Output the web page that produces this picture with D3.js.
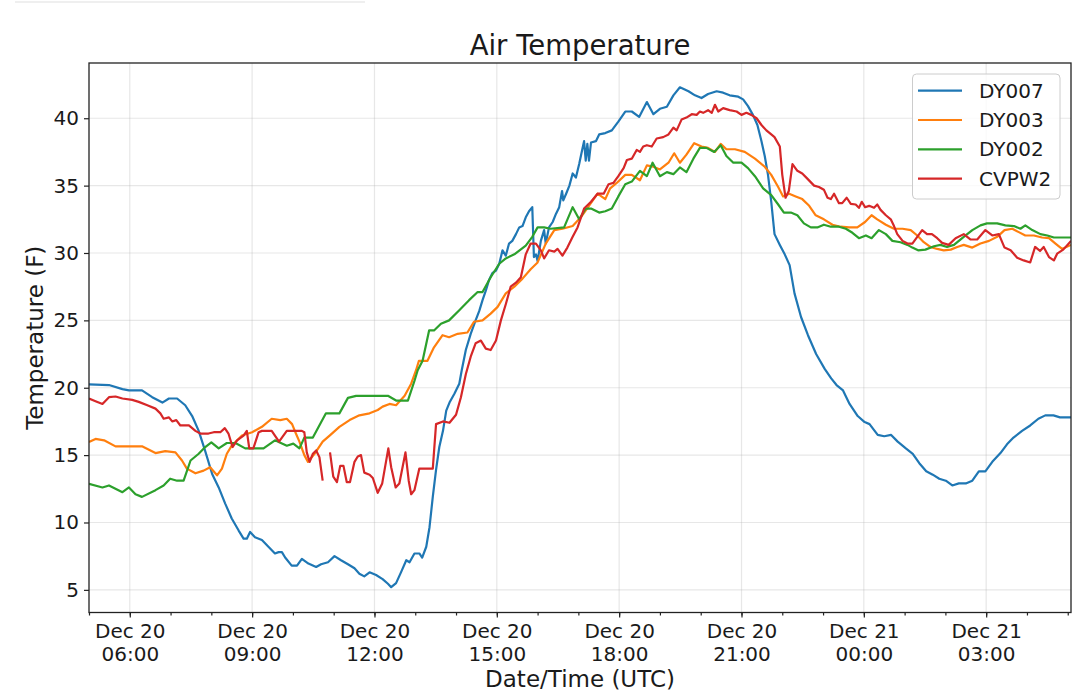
<!DOCTYPE html>
<html>
<head>
<meta charset="utf-8">
<script src="https://cdn.jsdelivr.net/npm/d3@7"></script>
<style>
  body { margin: 0; background: #fff; }
  text { font-family: "DejaVu Sans", sans-serif; fill: #1a1a1a; }
</style>
</head>
<body>
<svg id="chart" width="1080" height="698"></svg>
<script>
// [hours after Dec 20 00:00 UTC, air temperature F]
var DY007 = [[5.0,20.25],[5.49,20.2],[5.82,19.9],[5.98,19.8],[6.3,19.8],[6.55,19.3],[6.8,18.9],[6.96,19.2],
  [7.16,19.2],[7.36,18.7],[7.53,17.9],[7.69,16.8],[7.85,15.3],[8.02,13.6],[8.18,12.6],[8.34,11.4],[8.5,10.3],
  [8.67,9.4],[8.79,8.8],[8.87,8.8],[8.95,9.3],[9.07,8.9],[9.24,8.7],[9.4,8.2],[9.56,7.7],[9.65,7.8],[9.73,7.8],
  [9.81,7.4],[9.97,6.8],[10.1,6.8],[10.22,7.3],[10.38,6.95],[10.57,6.7],[10.69,6.9],[10.86,7.05],[11.02,7.5],
  [11.18,7.2],[11.35,6.9],[11.51,6.6],[11.63,6.2],[11.75,6.0],[11.88,6.3],[12.04,6.1],[12.2,5.8],[12.33,5.45],
  [12.41,5.2],[12.53,5.5],[12.65,6.3],[12.78,7.2],[12.86,7.05],[12.98,7.7],[13.1,7.7],[13.17,7.4],[13.27,8.2],
  [13.35,9.65],[13.43,11.9],[13.51,13.9],[13.59,15.6],[13.68,16.8],[13.76,18.3],[13.84,18.9],[13.96,19.55],
  [14.08,20.3],[14.14,21.3],[14.24,22.8],[14.36,24.0],[14.48,25.0],[14.57,25.7],[14.65,26.5],[14.73,27.2],
  [14.81,28.0],[14.89,28.5],[14.98,28.7],[15.06,29.2],[15.14,30.2],[15.22,29.8],[15.3,30.7],[15.38,30.9],
  [15.47,31.4],[15.55,31.9],[15.63,32.0],[15.71,32.65],[15.79,33.1],[15.87,33.4],[15.91,29.7],[15.96,29.9],
  [16.0,29.4],[16.08,30.9],[16.16,31.7],[16.2,30.7],[16.28,31.9],[16.37,32.3],[16.45,32.9],[16.53,33.4],
  [16.6,34.6],[16.63,33.9],[16.7,34.4],[16.78,35.0],[16.86,35.9],[16.94,35.6],[17.02,36.6],[17.09,37.6],
  [17.14,38.3],[17.18,36.85],[17.22,38.1],[17.26,36.85],[17.31,38.2],[17.43,38.3],[17.51,38.8],[17.66,38.9],
  [17.82,39.1],[17.98,39.75],[18.15,40.5],[18.31,40.5],[18.49,40.1],[18.68,41.2],[18.84,40.3],[19.0,40.7],
  [19.17,40.85],[19.33,41.7],[19.49,42.3],[19.7,42.0],[19.86,41.7],[20.02,41.5],[20.18,41.8],[20.39,42.0],
  [20.55,41.9],[20.71,41.7],[20.92,41.6],[21.04,41.4],[21.16,40.9],[21.28,40.25],[21.39,39.5],[21.49,38.3],
  [21.57,37.2],[21.65,35.8],[21.73,33.8],[21.81,31.4],[21.94,30.6],[22.06,29.9],[22.18,29.1],[22.3,27.0],
  [22.46,25.25],[22.63,23.9],[22.83,22.5],[23.04,21.4],[23.2,20.7],[23.33,20.2],[23.49,19.8],[23.65,18.8],
  [23.85,17.9],[24.02,17.45],[24.14,17.3],[24.34,16.5],[24.5,16.4],[24.67,16.5],[24.83,16.0],[25.03,15.5],
  [25.2,15.1],[25.36,14.4],[25.53,13.8],[25.69,13.55],[25.85,13.25],[26.01,13.1],[26.17,12.75],[26.33,12.9],
  [26.5,12.9],[26.66,13.1],[26.82,13.8],[26.98,13.8],[27.15,14.5],[27.35,15.15],[27.51,15.8],[27.67,16.3],
  [27.88,16.8],[28.08,17.2],[28.28,17.7],[28.45,17.95],[28.65,17.95],[28.81,17.8],[29.08,17.8]];

var DY003 = [[5.0,15.97],[5.16,16.2],[5.37,16.1],[5.65,15.65],[6.3,15.65],[6.63,15.15],[6.87,15.3],[7.12,15.2],
  [7.28,14.6],[7.4,14.0],[7.61,13.65],[7.81,13.85],[7.97,14.1],[8.14,13.5],[8.26,14.0],[8.38,15.1],[8.5,15.7],
  [8.75,16.45],[9.0,16.7],[9.24,17.1],[9.48,17.7],[9.69,17.6],[9.85,17.7],[9.98,17.3],[10.06,16.7],[10.16,16.0],
  [10.28,15.0],[10.37,14.5],[10.53,15.1],[10.73,16.0],[10.9,16.45],[11.14,17.1],[11.39,17.6],[11.63,17.95],
  [11.88,18.1],[12.08,18.35],[12.2,18.6],[12.37,18.8],[12.53,18.7],[12.74,19.4],[12.9,20.3],[13.02,21.3],
  [13.09,22.0],[13.3,22.0],[13.46,23.0],[13.67,23.9],[13.83,23.75],[14.04,24.0],[14.28,24.1],[14.44,24.9],
  [14.65,25.0],[14.85,25.5],[15.02,26.0],[15.22,27.0],[15.43,27.5],[15.63,28.1],[15.83,28.8],[16.0,29.3],
  [16.2,30.7],[16.41,31.7],[16.61,31.8],[16.86,32.0],[17.06,32.65],[17.26,33.5],[17.47,34.4],[17.66,34.0],
  [17.78,34.8],[17.94,35.2],[18.15,35.8],[18.31,35.8],[18.51,35.4],[18.68,36.5],[18.84,36.4],[19.0,36.2],
  [19.21,36.7],[19.35,37.4],[19.49,36.7],[19.65,37.3],[19.84,38.15],[20.02,37.9],[20.18,37.8],[20.35,37.5],
  [20.49,38.1],[20.63,37.7],[20.84,37.7],[21.08,37.5],[21.33,37.0],[21.57,36.4],[21.73,35.8],[21.9,34.9],
  [22.02,34.2],[22.17,34.4],[22.33,34.2],[22.49,34.0],[22.66,33.5],[22.82,32.8],[23.02,32.5],[23.23,32.1],
  [23.43,31.95],[23.64,31.9],[23.84,31.9],[24.03,32.3],[24.19,32.8],[24.33,32.5],[24.54,32.1],[24.74,31.8],
  [24.95,31.8],[25.15,31.7],[25.31,31.3],[25.47,30.8],[25.63,30.45],[25.8,30.3],[25.96,30.2],[26.13,30.25],
  [26.29,30.45],[26.45,30.6],[26.66,30.4],[26.86,30.7],[27.07,30.9],[27.27,31.2],[27.45,31.7],[27.64,31.8],
  [27.8,31.55],[27.96,31.3],[28.17,31.3],[28.37,31.15],[28.54,31.1],[28.7,30.7],[28.86,30.3],[29.08,30.6]];

var DY002 = [[5.0,12.87],[5.33,12.6],[5.49,12.75],[5.82,12.25],[5.98,12.6],[6.14,12.1],[6.3,11.9],[6.63,12.4],
  [6.83,12.75],[6.99,13.25],[7.16,13.1],[7.32,13.1],[7.49,14.6],[7.69,15.1],[7.85,15.6],[8.0,15.95],[8.18,15.5],
  [8.38,15.9],[8.59,15.9],[8.83,15.5],[9.07,15.5],[9.28,15.5],[9.56,16.1],[9.85,15.7],[10.01,15.85],[10.16,15.5],
  [10.28,16.3],[10.49,16.3],[10.81,18.1],[11.14,18.1],[11.35,19.25],[11.55,19.4],[12.33,19.4],[12.53,19.05],
  [12.82,19.05],[12.98,20.5],[13.06,21.3],[13.18,22.0],[13.34,24.25],[13.46,24.25],[13.63,24.75],[13.83,25.0],
  [14.08,25.75],[14.32,26.5],[14.53,27.1],[14.65,27.1],[14.85,28.2],[15.06,29.2],[15.22,29.6],[15.43,29.9],
  [15.71,30.55],[15.87,31.2],[16.0,31.9],[16.16,31.9],[16.32,31.8],[16.65,31.9],[16.86,33.4],[17.02,32.5],
  [17.18,33.3],[17.31,33.3],[17.51,33.0],[17.66,33.1],[17.82,33.3],[17.98,34.2],[18.15,35.1],[18.31,35.3],
  [18.51,36.1],[18.68,35.7],[18.82,36.7],[19.0,35.7],[19.17,36.0],[19.33,35.85],[19.49,36.35],[19.65,36.0],
  [19.82,37.0],[19.98,37.8],[20.14,37.8],[20.33,37.5],[20.49,38.0],[20.63,37.2],[20.8,36.7],[21.0,36.7],
  [21.16,36.3],[21.33,35.7],[21.53,34.8],[21.73,34.3],[21.9,33.6],[22.04,33.0],[22.21,33.0],[22.37,32.8],
  [22.53,32.2],[22.7,31.9],[22.86,31.9],[23.02,32.1],[23.19,31.95],[23.39,31.95],[23.56,31.8],[23.72,31.5],
  [23.88,31.1],[24.05,31.3],[24.19,31.1],[24.37,31.7],[24.54,31.4],[24.7,30.9],[24.9,30.8],[25.07,30.6],
  [25.19,30.4],[25.33,30.2],[25.51,30.25],[25.72,30.5],[25.88,30.6],[26.04,30.45],[26.21,30.6],[26.45,31.2],
  [26.66,31.7],[26.86,32.05],[27.02,32.2],[27.27,32.2],[27.47,32.05],[27.68,32.0],[27.84,31.8],[27.96,32.05],
  [28.13,31.7],[28.33,31.4],[28.5,31.3],[28.66,31.15],[29.08,31.15]];

// null marks the hole in the record
var CVPW2 = [[5.0,19.2],[5.16,19.0],[5.33,18.8],[5.49,19.3],[5.65,19.35],[5.82,19.2],[6.06,19.1],[6.22,18.95],
  [6.43,18.7],[6.63,18.45],[6.75,18.1],[6.83,17.7],[6.96,17.8],[7.04,17.5],[7.14,17.6],[7.24,17.2],[7.45,17.2],
  [7.61,16.8],[7.73,16.6],[7.93,16.6],[8.06,16.7],[8.22,16.7],[8.33,17.0],[8.42,16.6],[8.52,15.6],[8.63,16.1],
  [8.79,16.45],[8.87,16.8],[8.93,15.5],[9.03,15.5],[9.16,16.7],[9.24,16.8],[9.48,16.8],[9.66,16.0],[9.85,16.8],
  [10.22,16.8],[10.28,16.7],[10.34,15.2],[10.41,14.5],[10.49,15.1],[10.57,15.35],[10.65,14.85],[10.73,13.1],
  [10.82,null],
  [10.91,15.2],[10.99,13.4],[11.08,13.0],[11.16,14.2],[11.24,14.2],[11.32,13.0],[11.4,13.0],[11.51,14.5],
  [11.59,14.9],[11.67,15.0],[11.75,13.7],[11.88,13.55],[11.96,13.3],[12.08,12.2],[12.19,12.9],[12.34,15.5],
  [12.41,14.1],[12.52,12.6],[12.61,12.9],[12.76,15.2],[12.84,13.1],[12.9,12.1],[12.98,12.4],[13.1,14.0],
  [13.43,14.0],[13.51,17.3],[13.68,17.5],[13.84,17.4],[14.0,18.0],[14.12,19.3],[14.24,21.0],[14.36,22.3],
  [14.48,23.3],[14.61,23.5],[14.73,22.9],[14.85,22.8],[14.98,23.5],[15.1,25.0],[15.22,26.2],[15.34,27.5],
  [15.47,27.8],[15.59,28.2],[15.71,29.9],[15.83,30.7],[15.96,30.7],[16.08,30.2],[16.16,29.6],[16.28,30.2],
  [16.41,30.1],[16.49,30.3],[16.61,29.8],[16.73,30.4],[16.86,31.2],[16.98,31.9],[17.14,33.3],[17.31,33.8],
  [17.47,34.4],[17.62,34.4],[17.74,35.1],[17.86,35.2],[17.98,35.7],[18.11,36.3],[18.19,36.9],[18.31,37.0],
  [18.43,37.65],[18.51,37.5],[18.59,37.9],[18.68,38.0],[18.8,37.9],[18.92,38.5],[19.08,38.6],[19.21,38.8],
  [19.33,39.3],[19.41,39.1],[19.53,39.9],[19.65,40.05],[19.78,40.3],[19.9,40.25],[19.98,40.5],[20.06,40.4],
  [20.18,40.6],[20.27,40.4],[20.35,41.0],[20.43,40.5],[20.55,40.75],[20.71,40.6],[20.88,40.5],[21.0,40.25],
  [21.12,40.4],[21.24,40.25],[21.37,40.0],[21.49,39.5],[21.61,39.1],[21.73,38.8],[21.81,38.6],[21.94,37.9],
  [22.0,35.8],[22.08,34.1],[22.16,34.6],[22.25,36.6],[22.37,36.1],[22.49,35.9],[22.62,35.5],[22.78,35.0],
  [22.9,34.9],[23.02,34.7],[23.11,34.1],[23.19,34.0],[23.27,34.4],[23.39,33.7],[23.47,33.7],[23.58,34.1],
  [23.68,33.65],[23.8,33.6],[23.88,33.35],[23.95,33.8],[24.03,33.4],[24.13,33.5],[24.25,33.35],[24.33,33.6],
  [24.41,33.2],[24.54,32.8],[24.66,32.5],[24.74,32.0],[24.82,31.4],[24.95,30.9],[25.07,30.7],[25.19,30.7],
  [25.31,31.2],[25.43,31.7],[25.55,31.4],[25.67,31.4],[25.8,31.1],[25.92,30.75],[26.08,30.6],[26.25,31.1],
  [26.45,31.4],[26.62,31.0],[26.78,31.0],[26.98,31.7],[27.15,31.3],[27.31,31.4],[27.45,30.4],[27.6,30.2],
  [27.76,29.65],[27.92,29.45],[28.08,29.3],[28.2,30.45],[28.32,30.15],[28.41,30.45],[28.54,29.7],[28.66,29.45],
  [28.74,29.95],[28.89,30.25],[29.08,30.9]];

var seriesNames = ['DY007', 'DY003', 'DY002', 'CVPW2'];
var seriesData = [DY007, DY003, DY002, CVPW2];
var seriesColors = ['#1f77b4', '#ff7f0e', '#2ca02c', '#d62728'];
var yTicks = [5, 10, 15, 20, 25, 30, 35, 40];
var xRange = [5, 29.08];   // hours after Dec 20 00:00 UTC
var yRange = [3.32, 44.1];

var base = Date.UTC(2018, 11, 20);
function toDate(h) { return new Date(base + h * 3600000); }

var L = 89, R = 1071, T = 63, B = 612.5;
var svg = d3.select('#chart');

// faint bar along the very top of the screenshot
svg.append('line').attr('x1', 15).attr('x2', 365).attr('y1', 2).attr('y2', 2)
  .attr('stroke', '#efefef').attr('stroke-width', 2);

var x = d3.scaleUtc().domain(xRange.map(toDate)).range([L, R]);
var y = d3.scaleLinear().domain(yRange).range([B, T]);

var majors = d3.utcHour.every(3).range(toDate(5), toDate(29.1));
var minors = d3.utcHour.every(1).range(toDate(5), toDate(29.1));

// grid
var grid = svg.append('g').attr('stroke', '#b0b0b0').attr('stroke-opacity', 0.3).attr('stroke-width', 1.2);
grid.selectAll('.gx').data(majors).enter().append('line')
  .attr('x1', function(d) { return x(d); }).attr('x2', function(d) { return x(d); })
  .attr('y1', T).attr('y2', B);
grid.selectAll('.gy').data(yTicks).enter().append('line')
  .attr('x1', L).attr('x2', R)
  .attr('y1', function(d) { return y(d); }).attr('y2', function(d) { return y(d); });

// lines
svg.append('clipPath').attr('id', 'clip').append('rect')
  .attr('x', L).attr('y', T).attr('width', R - L).attr('height', B - T);

var line = d3.line()
  .defined(function(d) { return d[1] != null; })
  .x(function(d) { return x(toDate(d[0])); })
  .y(function(d) { return y(d[1]); });

svg.append('g').attr('clip-path', 'url(#clip)')
  .selectAll('path').data(seriesData).enter().append('path')
  .attr('d', line)
  .attr('fill', 'none')
  .attr('stroke', function(d, i) { return seriesColors[i]; })
  .attr('stroke-width', 2.2)
  .attr('stroke-linejoin', 'round');

// axes
var xMinor = svg.append('g').attr('transform', 'translate(0,' + B + ')')
  .call(d3.axisBottom(x).tickValues(minors).tickSize(3).tickFormat(''));
var xAxis = svg.append('g').attr('transform', 'translate(0,' + B + ')')
  .call(d3.axisBottom(x).tickValues(majors).tickSize(5).tickPadding(6));
xAxis.selectAll('.tick text').each(function(d) {
  var t = d3.select(this);
  t.text(null).attr('font-size', 20);
  t.append('tspan').attr('x', 0).text(d3.utcFormat('%b %d')(d));
  t.append('tspan').attr('x', 0).attr('dy', 23.5).text(d3.utcFormat('%H:%M')(d));
});

var yAxis = svg.append('g').attr('transform', 'translate(' + L + ',0)')
  .call(d3.axisLeft(y).tickValues(yTicks).tickSize(5).tickPadding(5));
yAxis.selectAll('.tick text').attr('font-size', 20);

[xMinor, xAxis, yAxis].forEach(function(g) {
  g.select('.domain').remove();
  g.selectAll('.tick line').attr('stroke', '#222').attr('stroke-width', 1.2);
  g.selectAll('.tick text').attr('fill', '#1a1a1a').attr('font-family', '"DejaVu Sans", sans-serif');
});

svg.append('rect').attr('x', L).attr('y', T).attr('width', R - L).attr('height', B - T)
  .attr('fill', 'none').attr('stroke', '#222').attr('stroke-width', 1.3);

// titles
svg.append('text').attr('x', (L + R) / 2).attr('y', 55).attr('text-anchor', 'middle')
  .attr('font-size', 27.5).text('Air Temperature');
svg.append('text').attr('x', (L + R) / 2).attr('y', 687).attr('text-anchor', 'middle')
  .attr('font-size', 23).text('Date/Time (UTC)');
svg.append('text').attr('transform', 'translate(43,' + ((T + B) / 2) + ') rotate(-90)')
  .attr('text-anchor', 'middle').attr('font-size', 23).text('Temperature (F)');

// legend
var legend = svg.append('g');
legend.append('rect').attr('x', 912.5).attr('y', 74).attr('width', 147.5).attr('height', 125)
  .attr('rx', 4).attr('fill', '#fff').attr('fill-opacity', 0.8)
  .attr('stroke', '#cccccc').attr('stroke-width', 1);
var item = legend.selectAll('.item').data(seriesNames).enter().append('g')
  .attr('transform', function(d, i) { return 'translate(0,' + (90.7 + i * 29.3) + ')'; });
item.append('line').attr('x1', 918).attr('x2', 962)
  .attr('stroke', function(d, i) { return seriesColors[i]; }).attr('stroke-width', 2.2);
item.append('text').attr('x', 979).attr('y', 7).attr('font-size', 20).text(function(d) { return d; });
</script>
</body>
</html>
